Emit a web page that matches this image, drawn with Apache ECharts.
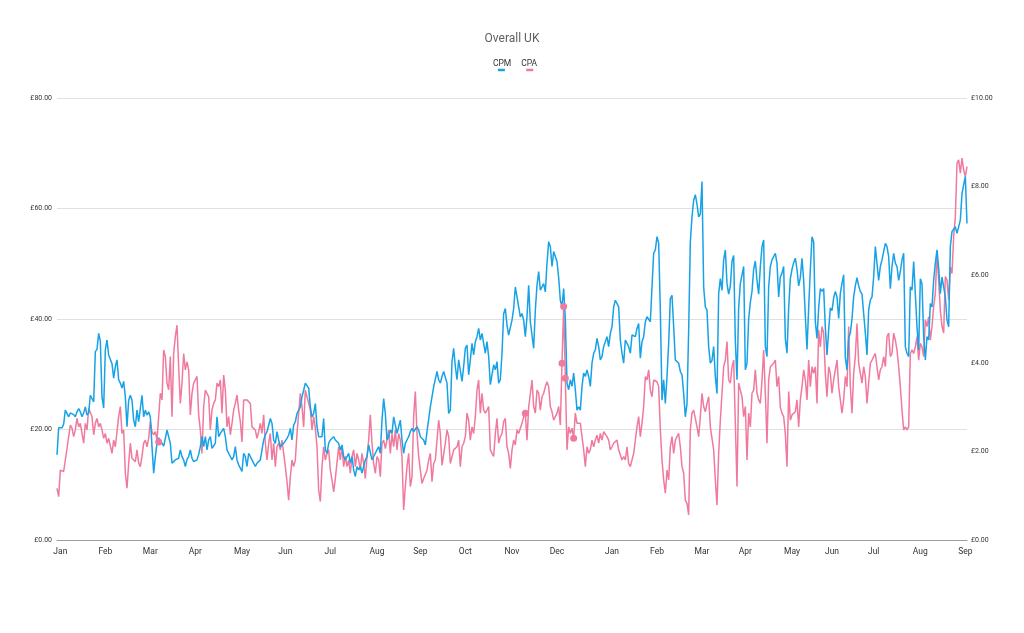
<!DOCTYPE html>
<html><head><meta charset="utf-8">
<script src="https://cdn.jsdelivr.net/npm/echarts@6/dist/echarts.min.js"></script>
<style>html,body{margin:0;padding:0;background:#fff}#c{width:1024px;height:633px}</style>
</head><body><div id="c"></div>
<script>
const chartTitle = 'Overall UK';
const seriesNames = ['CPM', 'CPA'];
const monthNames = ['Jan','Feb','Mar','Apr','May','Jun','Jul','Aug','Sep','Oct','Nov','Dec','Jan','Feb','Mar','Apr','May','Jun','Jul','Aug','Sep'];
const monthStartIdx = [2,29,56,83,111,137,164,192,218,245,273,300,333,360,387,413,441,465,490,518,545];
const leftAxisMax = 80, leftAxisStep = 20;
const rightAxisMax = 10, rightAxisStep = 2;

const cpm = [
15.4,20.3,20.5,20.3,21.0,23.5,23.8,22.3,23.0,23.0,
22.7,22.3,23.2,23.8,23.2,22.3,23.0,24.1,22.6,23.0,
26.2,25.9,25.0,34.1,34.5,37.4,36.0,25.9,23.9,34.4,
36.2,33.5,33.7,31.9,29.3,31.4,32.6,29.0,28.4,27.5,
28.7,25.9,20.5,25.3,26.2,25.3,21.7,20.5,23.5,21.4,
21.1,26.2,22.3,23.5,22.6,23.2,22.3,16.9,12.1,15.1,
17.5,18.5,18.7,17.5,17.0,18.4,19.9,19.6,17.5,13.9,
14.2,14.5,14.6,14.8,16.3,15.1,14.5,13.3,14.6,15.1,
16.3,14.8,14.2,13.9,14.5,15.5,16.9,18.7,16.9,18.7,
16.3,18.1,18.7,16.6,16.3,17.5,22.3,18.7,19.3,19.3,
20.2,18.7,16.3,15.7,15.4,14.5,15.1,16.9,14.5,13.6,
13.9,12.4,15.7,15.1,13.3,15.7,15.7,14.5,13.9,13.3,
13.9,13.9,14.5,16.3,18.1,19.0,19.6,19.3,22.0,21.1,
18.1,17.5,19.6,18.1,16.9,16.6,17.5,17.5,18.4,19.0,
20.2,18.1,20.8,21.4,22.9,22.9,24.1,25.9,27.1,28.4,
28.1,27.5,24.1,22.3,22.9,24.7,20.5,18.7,19.0,18.7,
22.0,16.3,15.7,17.5,18.1,18.4,18.7,18.1,18.4,17.5,
16.3,17.2,15.1,14.5,15.1,15.7,13.9,15.1,12.7,11.5,
13.3,12.7,13.3,12.1,11.8,14.5,15.1,17.2,17.5,14.5,
14.2,15.7,16.3,16.9,15.7,21.7,25.6,22.9,18.1,18.7,
19.9,19.3,22.3,20.8,19.3,20.5,21.7,18.1,15.7,17.5,
18.1,18.7,19.6,20.2,19.6,19.3,20.5,19.9,18.7,18.7,
18.1,17.2,19.6,19.3,24.1,25.9,27.7,27.4,30.5,29.0,
28.4,29.6,30.5,30.8,28.4,22.9,23.5,32.3,34.7,31.4,
29.0,32.6,32.6,28.7,31.4,34.7,35.3,29.9,32.6,35.6,
33.5,35.9,36.8,38.3,36.2,37.4,35.6,33.8,35.9,33.2,
28.1,28.4,31.7,30.8,32.3,28.4,29.0,33.8,41.0,41.9,
38.9,37.1,37.4,39.8,41.9,45.8,44.0,42.2,40.4,41.0,
39.8,36.8,40.4,46.1,39.5,39.8,34.7,41.6,46.1,48.6,
45.2,44.9,46.4,44.9,50.1,54.0,53.1,49.5,52.2,51.3,
50.4,47.5,43.4,42.2,45.5,40.0,28.4,27.2,29.0,27.8,
30.2,27.2,23.5,24.1,23.5,27.8,30.2,29.6,30.8,29.6,
27.8,32.0,33.8,34.4,36.5,35.0,32.6,33.2,35.0,35.3,
36.8,35.0,37.4,38.6,42.2,43.4,43.7,42.2,36.2,33.8,
32.0,36.2,36.5,35.0,33.8,37.1,37.1,36.8,38.3,39.2,
32.9,35.9,36.8,39.5,40.4,40.7,39.5,45.8,51.9,52.5,
54.9,53.7,41.6,25.3,29.0,24.7,29.6,35.6,43.7,44.3,
38.6,32.6,32.6,32.0,30.5,29.9,26.5,22.3,24.7,38.0,
54.0,58.5,61.5,62.5,60.8,58.5,59.0,64.9,45.8,42.2,
41.6,35.0,32.0,32.5,35.0,29.6,26.5,44.6,47.3,45.2,
50.7,52.5,46.4,44.5,46.0,50.5,51.5,36.0,29.0,42.0,
46.4,48.0,49.5,30.8,32.0,40.0,43.0,45.0,49.0,50.5,
47.0,44.5,49.5,53.1,54.3,35.0,33.2,45.8,49.5,50.7,
50.7,51.9,50.1,44.0,47.6,48.3,49.5,36.4,33.8,42.0,
47.3,49.0,50.2,51.0,49.0,46.0,47.5,51.0,47.0,40.5,
34.5,42.0,48.9,54.9,54.0,39.5,36.5,42.0,45.5,45.0,
45.5,38.5,33.5,38.0,42.0,41.5,43.8,45.0,44.0,40.1,
44.6,46.5,48.0,33.0,30.8,36.5,37.5,40.0,44.0,46.0,
47.5,46.0,45.0,44.5,41.0,37.5,33.5,41.6,43.4,44.0,
47.6,53.1,53.1,47.0,49.5,50.7,50.4,53.7,53.1,51.3,
45.5,49.5,51.9,50.1,49.5,47.0,48.6,50.7,51.9,35.0,
33.8,33.2,45.8,45.2,50.4,50.7,38.6,34.4,47.3,46.4,
36.8,32.6,36.8,36.2,42.8,42.2,47.0,50.1,52.5,49.2,
44.6,47.6,47.6,44.0,39.8,38.6,53.1,55.8,55.5,56.7,
55.5,55.5,57.9,62.7,64.3,65.8,57.3
];

const cpa = [
1.17,0.98,1.58,1.62,1.55,1.51,2.07,2.10,2.60,2.53,
2.34,2.49,2.75,2.56,2.64,2.41,2.19,2.64,2.49,2.98,
3.00,2.79,2.38,2.64,2.75,2.56,2.64,2.49,2.30,2.41,
2.19,2.30,2.26,1.96,2.26,2.11,2.45,2.79,3.02,2.41,
2.49,1.51,1.17,1.73,2.19,1.85,1.89,1.77,2.04,1.74,
1.66,1.89,2.19,2.26,2.11,2.30,2.68,2.45,2.38,2.45,
2.26,2.22,3.32,3.17,4.30,4.15,3.55,3.40,4.15,2.79,
4.22,4.60,4.86,3.92,3.09,3.55,4.22,3.85,4.03,3.85,
2.83,3.32,3.55,3.58,3.70,2.83,2.49,1.96,3.02,3.39,
3.36,3.24,2.49,2.94,3.09,3.17,3.55,3.47,3.62,2.87,
3.73,3.39,2.56,2.79,2.38,2.64,2.94,3.09,3.28,2.94,
2.68,2.22,3.17,3.21,3.17,3.13,3.09,2.56,2.60,2.49,
2.30,2.45,2.64,2.41,2.83,2.19,1.81,2.19,2.41,1.81,
2.19,1.66,2.11,2.19,2.04,2.26,1.96,1.66,1.32,0.90,
1.43,1.81,1.66,1.81,2.41,2.87,3.32,3.02,2.56,3.39,
3.24,3.09,2.94,2.49,2.79,2.53,2.11,1.13,0.87,1.66,
2.11,1.81,1.96,2.04,1.58,1.36,1.09,1.39,1.36,2.11,
1.81,2.11,1.66,1.89,1.66,1.81,1.51,1.89,2.04,1.66,
1.96,1.81,1.58,1.96,1.73,1.39,1.89,2.26,2.83,2.19,
1.73,1.51,1.89,1.81,1.43,2.19,2.26,2.07,2.26,2.49,
1.96,2.41,2.11,2.49,2.04,2.41,2.26,1.89,0.68,1.21,
1.66,1.96,1.21,1.43,2.79,3.36,2.41,1.89,1.58,1.28,
1.39,1.43,1.58,1.81,1.96,1.32,1.73,1.81,2.26,2.71,
2.41,1.69,1.73,2.19,2.49,2.34,1.73,1.69,2.04,2.00,
2.11,2.26,1.66,2.11,2.19,2.34,2.87,2.71,2.26,2.56,
2.41,2.79,3.39,3.62,2.87,3.32,2.94,2.87,2.94,3.02,
2.04,1.96,1.89,2.41,2.75,2.19,2.34,2.41,2.68,2.75,
2.11,1.96,1.62,2.04,2.26,2.15,2.49,2.41,2.53,2.64,
2.79,2.87,2.26,3.00,3.02,3.62,3.02,2.87,3.39,3.32,
2.94,3.24,3.32,3.47,3.58,3.47,3.02,2.90,2.71,2.79,
2.87,3.02,2.60,4.00,5.28,3.66,2.04,2.56,2.41,2.53,
2.30,2.87,2.64,2.60,2.64,2.60,2.04,1.66,2.11,1.96,
2.04,2.26,2.11,2.26,2.37,2.19,2.41,2.26,2.45,2.41,
2.34,2.26,2.04,2.11,2.19,2.19,2.26,2.04,2.04,1.81,
1.89,1.81,2.11,1.73,1.66,1.81,1.96,2.26,2.56,2.79,
2.34,2.64,3.02,3.70,3.62,3.85,3.39,3.24,3.62,3.58,
3.58,3.47,2.50,1.81,1.36,1.06,1.58,1.36,2.11,2.34,
1.96,2.26,2.34,2.41,2.11,1.66,1.51,0.90,0.83,0.57,
2.50,2.87,2.94,2.94,2.56,2.34,2.79,3.32,3.02,2.90,
3.09,3.24,2.56,2.60,2.04,1.36,0.79,1.96,2.71,3.32,
3.92,4.07,4.49,3.62,3.55,3.92,4.07,2.64,1.21,3.55,
3.39,3.24,2.79,3.02,1.81,2.87,2.56,3.32,3.39,3.85,
3.32,3.17,3.09,3.62,4.30,3.32,2.19,3.62,3.92,3.89,
4.00,4.07,3.47,3.70,3.00,2.87,2.79,2.40,1.66,3.36,
2.71,2.83,2.87,2.90,3.17,2.56,3.17,3.47,3.85,3.62,
3.17,4.07,3.47,3.92,3.77,3.92,3.09,4.75,4.37,4.83,
4.68,3.77,3.24,3.92,3.77,3.32,3.62,3.85,4.07,3.47,
3.17,2.87,3.17,3.70,3.47,4.83,3.47,2.87,3.77,4.15,
4.90,4.00,4.00,3.55,3.92,3.70,3.09,3.55,4.00,4.07,
4.15,4.22,3.92,3.62,3.85,3.92,4.15,3.92,4.60,4.68,
4.15,4.22,4.68,4.52,4.30,3.92,3.47,2.94,2.49,2.56,
2.49,2.56,4.22,4.30,4.22,4.37,4.60,4.07,4.45,4.37,
4.15,4.98,4.83,5.05,4.52,4.83,5.28,5.58,6.49,5.88,
5.20,4.83,4.68,5.96,5.88,5.43,6.18,6.03,6.86,7.31,
8.52,8.60,8.30,8.64,8.37,8.22,8.45
];

const cpaMarkerIdx = [61, 281, 303, 304, 305, 310];

const colors = ['#17a2e6', '#f07a9e'];
const categories = cpm.map(() => '');
monthStartIdx.forEach((idx, k) => { categories[idx] = monthNames[k]; });

const fmt = v => '£' + v.toFixed(2);
const chart = echarts.init(document.getElementById('c'), null, { renderer: 'canvas' });
chart.setOption({
  animation: false,
  backgroundColor: '#ffffff',
  textStyle: { fontFamily: 'Roboto' },
  title: {
    text: chartTitle, left: 'center', top: 28,
    textStyle: { fontSize: 12, fontWeight: 'normal', color: '#5f5f5f', fontFamily: 'Roboto' }
  },
  legend: {
    data: seriesNames, left: 'center', top: 54, itemWidth: 0, itemHeight: 0, itemGap: 4,
    formatter: name => '{t|' + name + '}\n{s|}{b' + seriesNames.indexOf(name) + '|}',
    textStyle: {
      fontFamily: 'Roboto', color: '#333',
      rich: {
        t: { fontSize: 8.5, color: '#333', lineHeight: 10 },
        s: { width: 5, height: 3 },
        b0: { width: 7, height: 2.5, backgroundColor: colors[0] },
        b1: { width: 7, height: 2.5, backgroundColor: colors[1] }
      }
    }
  },
  grid: { left: 57, right: 57, top: 98, bottom: 93, outerBoundsMode: 'none' },
  xAxis: {
    type: 'category', data: categories, boundaryGap: false,
    axisLine: { show: true, lineStyle: { color: '#9e9e9e', width: 1 } },
    axisTick: { show: false },
    axisLabel: { interval: 0, fontSize: 8.5, color: '#333', margin: 7, fontFamily: 'Roboto' },
    splitLine: { show: false }
  },
  yAxis: [
    {
      type: 'value', min: 0, max: leftAxisMax, interval: leftAxisStep,
      axisLine: { show: false }, axisTick: { show: false },
      axisLabel: { formatter: fmt, fontSize: 7, color: '#333', margin: 5, fontFamily: 'Roboto' },
      splitLine: { show: true, lineStyle: { color: '#e0e0e0', width: 1 } }
    },
    {
      type: 'value', min: 0, max: rightAxisMax, interval: rightAxisStep,
      axisLine: { show: false }, axisTick: { show: false },
      axisLabel: { formatter: fmt, fontSize: 7, color: '#333', margin: 4, fontFamily: 'Roboto' },
      splitLine: { show: false }
    }
  ],
  series: [
    {
      name: seriesNames[0], type: 'line', yAxisIndex: 0, data: cpm,
      showSymbol: false, symbol: 'none', color: colors[0],
      lineStyle: { color: colors[0], width: 1.5 }, z: 3
    },
    {
      name: seriesNames[1], type: 'line', yAxisIndex: 1, data: cpa,
      showSymbol: false, symbol: 'none', color: colors[1],
      lineStyle: { color: colors[1], width: 1.5 }, z: 2
    },
    {
      name: 'CPA points', type: 'scatter', yAxisIndex: 1,
      data: cpaMarkerIdx.map(i => [i, cpa[i]]),
      symbol: 'circle', symbolSize: 7, itemStyle: { color: colors[1], opacity: 1 }, z: 5
    }
  ]
});
</script>
</body></html>
